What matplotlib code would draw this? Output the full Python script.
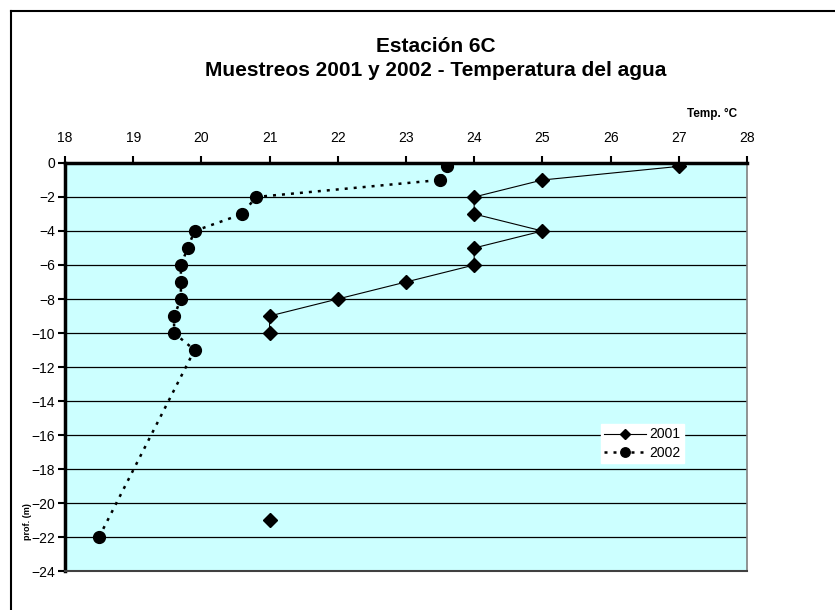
import numpy as np
import matplotlib
matplotlib.use("Agg")
from matplotlib import pyplot as plt
from matplotlib.lines import Line2D

plt.rcParams["font.family"] = ["Liberation Sans", "DejaVu Sans"]

# 2001 profile (gap between -10 m and -21 m)
depth_2001 = [-0.2, -1, -2, -3, -4, -5, -6, -7, -8, -9, -10, np.nan, -21]
temp_2001 = [27, 25, 24, 24, 25, 24, 24, 23, 22, 21, 21, np.nan, 21]

# 2002 profile
depth_2002 = [-0.2, -1, -2, -3, -4, -5, -6, -7, -8, -9, -10, -11, -22]
temp_2002 = [23.6, 23.5, 20.8, 20.6, 19.9, 19.8, 19.7, 19.7, 19.7, 19.6, 19.6, 19.9, 18.5]

x_ticks = list(range(18, 29))
y_ticks = list(range(0, -25, -2))

fig = plt.figure(figsize=(8.35, 6.10), dpi=100)
ax = fig.add_axes([0.0778, 0.0639, 0.8168, 0.6689])
ax.set_facecolor("#CCFFFF")

# outer chart border (only top and left visible)
fig.add_artist(Line2D([11 / 835, 11 / 835], [1 - 11 / 610, 0], color="black", lw=1.5))
fig.add_artist(Line2D([11 / 835, 1], [1 - 11 / 610, 1 - 11 / 610], color="black", lw=1.5))

for yv in y_ticks[1:-1]:
    ax.axhline(yv, color="black", lw=0.9, zorder=1)

ax.plot(temp_2001, depth_2001, color="black", lw=0.8, marker="D", ms=7,
        label="2001", zorder=3)
ax.plot(temp_2002, depth_2002, color="black", lw=1.8, ls=(0, (1.2, 2.4)),
        marker="o", ms=8.5, label="2002", zorder=3)

ax.set_xlim(18, 28)
ax.set_ylim(-24, 0)
ax.set_xticks(x_ticks)
ax.set_yticks(y_ticks)
ax.xaxis.tick_top()
ax.tick_params(axis="x", direction="out", length=5, width=1.5, labelsize=10, pad=8)
ax.tick_params(axis="y", direction="out", length=5, width=1.5, labelsize=10, pad=2)

ax.spines["top"].set_linewidth(2.5)
ax.spines["left"].set_linewidth(2.5)
ax.spines["right"].set_color("#808080")
ax.spines["right"].set_linewidth(1.2)
ax.spines["bottom"].set_color("#404040")
ax.spines["bottom"].set_linewidth(1.5)

fig.text(436 / 835, 1 - 47 / 610, "Estación 6C", ha="center", va="center",
         fontsize=15, fontweight="bold")
fig.text(436 / 835, 1 - 71 / 610, "Muestreos 2001 y 2002 - Temperatura del agua",
         ha="center", va="center", fontsize=15, fontweight="bold")
fig.text(687 / 835, 1 - 114 / 610, "Temp. °C", ha="left", va="center",
         fontsize=8.5, fontweight="bold")
fig.text(27 / 835, 1 - 522 / 610, "prof. (m)", ha="center", va="center",
         fontsize=6.5, fontweight="bold", rotation=90)

leg = ax.legend(loc="upper left", bbox_to_anchor=((601 - 65) / 682, 1 - (424 - 163) / 408),
                frameon=True, fancybox=False, framealpha=1, edgecolor="white",
                fontsize=10, handlelength=3, handletextpad=0.2, markerscale=0.8,
                borderpad=0.25, labelspacing=0.3, borderaxespad=0)

fig.savefig("out.png", dpi=100)
